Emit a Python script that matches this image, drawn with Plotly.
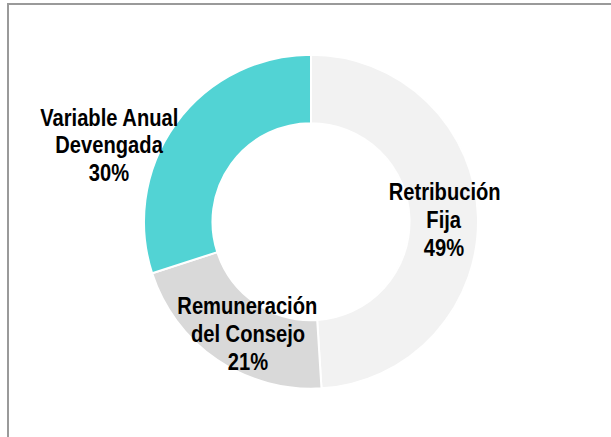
import plotly.graph_objects as go

# ---- data ----
labels = ["Retribución Fija", "Remuneración del Consejo", "Variable Anual Devengada"]
values = [49, 21, 30]
label_lines = [["Retribución", "Fija"], ["Remuneración", "del Consejo"], ["Variable Anual", "Devengada"]]
colors = ["#f2f2f2", "#d9d9d9", "#52d3d4"]

# ---- layout constants ----
W, H = 611, 437
cx, cy, R = 311, 221.7, 167
# label block positions (pixel x center, pixel y of first line center)
label_pos = [(444, 191.5), (247.5, 305.5), (109, 117)]
line_step = 28
FONT = "Liberation Sans Narrow, Arial Narrow, Liberation Sans, Arial, sans-serif"

fig = go.Figure()
fig.add_trace(go.Pie(
    labels=labels,
    values=values,
    sort=False,
    direction="clockwise",
    rotation=0,
    hole=0.59,
    textinfo="none",
    hoverinfo="label+percent",
    marker=dict(colors=colors, line=dict(color="white", width=2)),
    showlegend=False,
    domain=dict(x=[(cx - R) / W, (cx + R) / W],
                y=[(H - cy - R) / H, (H - cy + R) / H]),
))

total = sum(values)
annotations = []
for lines, v, (px, py) in zip(label_lines, values, label_pos):
    all_lines = lines + [f"{round(100 * v / total)}%"]
    for i, t in enumerate(all_lines):
        annotations.append(dict(
            text=t, x=px / W, y=1 - (py + i * line_step) / H,
            xref="paper", yref="paper", xanchor="center", yanchor="middle",
            showarrow=False,
            font=dict(family=FONT, size=24, color="#000000", weight="bold"),
        ))

fig.update_layout(
    width=W, height=H,
    margin=dict(l=0, r=0, t=0, b=0),
    paper_bgcolor="white", plot_bgcolor="white",
    annotations=annotations,
    shapes=[
        dict(type="line", xref="paper", yref="paper", x0=7 / W, x1=1, y0=1 - 4 / H, y1=1 - 4 / H,
             line=dict(color="#9a9a9a", width=2)),
        dict(type="line", xref="paper", yref="paper", x0=8 / W, x1=8 / W, y0=0, y1=1 - 3 / H,
             line=dict(color="#9a9a9a", width=2)),
    ],
)

post = """
document.body.style.margin = '0';
var gd = document.getElementById('{plot_id}');
gd.querySelectorAll('.annotation-text').forEach(function (t) {
    t.style.transformBox = 'fill-box';
    t.style.transformOrigin = 'center';
    t.style.transform = 'scaleX(0.84)';
});
"""

fig.write_html("out.html", post_script=post, config={"displayModeBar": False})
